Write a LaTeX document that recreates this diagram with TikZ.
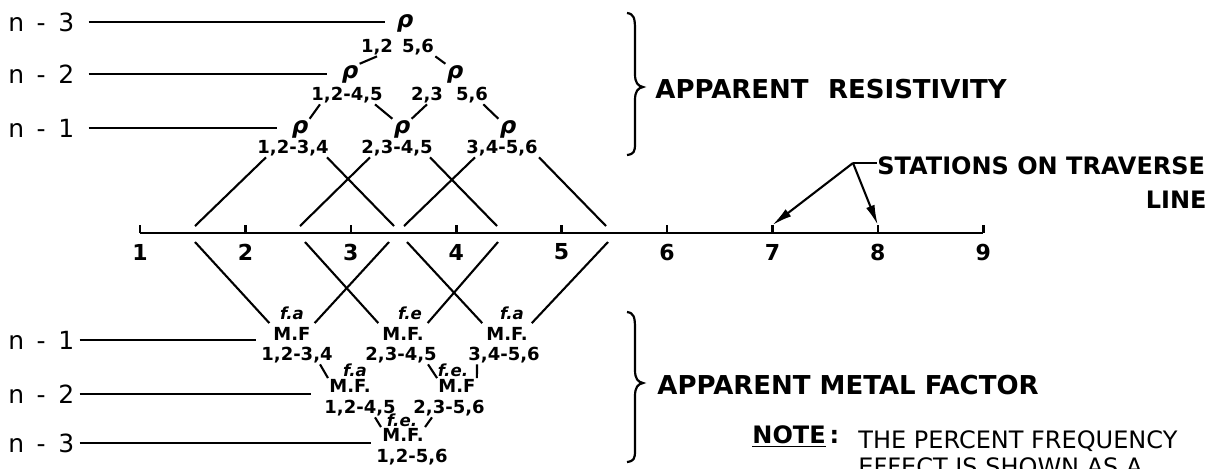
\documentclass[tikz,border=0pt]{standalone}
\usepackage{fontspec}
\setmainfont{DejaVu Sans}
\usetikzlibrary{arrows.meta,calc}

\begin{document}
\begin{tikzpicture}[x=0.5pt,y=-0.5pt,
  lbl/.style={anchor=west,inner sep=0pt,font=\fontsize{12.5}{14}\selectfont},
  rho/.style={inner sep=0.5pt,font=\bfseries\itshape\fontsize{11.5}{13}\selectfont},
  pair/.style={inner sep=0.5pt,font=\bfseries\fontsize{9}{10}\selectfont},
  fe/.style={inner sep=0pt,font=\bfseries\itshape\fontsize{8.3}{9}\selectfont},
  captext/.style={anchor=west,inner sep=0pt,font=\bfseries\fontsize{13}{15}\selectfont},
  num/.style={inner sep=0pt,font=\bfseries\fontsize{11}{12}\selectfont},
  link/.style={line width=1.05pt},
  lead/.style={line width=0.9pt},
  axis/.style={line width=1.3pt},
  tip/.style={-{Latex[length=10pt,width=4.5pt]}}]
\path[use as bounding box,fill=white] (0,0) rectangle (1218,468);

% level labels
\node[lbl] (nu3) at (8,22) {n\enspace-\enspace3};
\node[lbl] (nu2) at (8,74) {n\enspace-\enspace2};
\node[lbl] (nu1) at (8,128) {n\enspace-\enspace1};
\node[lbl] (nl1) at (8,340) {n\enspace-\enspace1};
\node[lbl] (nl2) at (8,394) {n\enspace-\enspace2};
\node[lbl] (nl3) at (8,443) {n\enspace-\enspace3};

% apparent resistivity
\node[rho] (r3) at (405,23) {ρ};
\node[pair] (t3a) at (377,47) {1,2};
\node[pair] (t3b) at (418,47) {5,6};
\node[rho] (r2a) at (350,74) {ρ};
\node[rho] (r2b) at (455,74) {ρ};
\node[pair] (t2a) at (347,95) {1,2-4,5};
\node[pair] (t2b) at (427,95) {2,3};
\node[pair] (t2c) at (472,95) {5,6};
\node[rho] (r1a) at (300,129) {ρ};
\node[rho] (r1b) at (402,129) {ρ};
\node[rho] (r1c) at (508,129) {ρ};
\node[pair] (t1a) at (293,148) {1,2-3,4};
\node[pair] (t1b) at (397,148) {2,3-4,5};
\node[pair] (t1c) at (502,148) {3,4-5,6};

% apparent metal factor
\node[fe] (fa1) at (292,313) {f.a};
\node[pair] (mf1) at (292,334) {M.F};
\node[pair] (lb1) at (297,355) {1,2-3,4};
\node[fe] (fa2) at (410,313) {f.e};
\node[pair] (mf2) at (403,334) {M.F.};
\node[pair] (lb2) at (401,355) {2,3-4,5};
\node[fe] (fa3) at (512,313) {f.a};
\node[pair] (mf3) at (507,334) {M.F.};
\node[pair] (lb3) at (504,355) {3,4-5,6};
\node[fe] (fa4) at (355,370) {f.a};
\node[pair] (mf4) at (350,386) {M.F.};
\node[pair] (lb4) at (360,408) {1,2-4,5};
\node[fe] (fa5) at (453,370) {f.e.};
\node[pair] (mf5) at (457,386) {M.F};
\node[pair] (lb5) at (449,408) {2,3-5,6};
\node[fe] (fa6) at (402,420) {f.e.};
\node[pair] (mf6) at (403,435) {M.F.};
\node[pair] (lb6) at (412,457) {1,2-5,6};

% traverse line
\foreach \k in {1,...,9} {
  \coordinate (s\k) at ({140+105.4*(\k-1)},233);
  \coordinate (t\k) at ({140+105.4*(\k-1)},225);
  \draw[axis] (s\k) -- (t\k);
  \node[num] (st\k) at ({140+105.4*(\k-1)},252) {\k};
}
\draw[axis] (s1) -- (s9);
\coordinate (u15) at (195,226);
\coordinate (u25) at (300,226);
\coordinate (u35a) at (394,226);
\coordinate (u35b) at (404,226);
\coordinate (u45) at (497,226);
\coordinate (u55) at (606,226);
\coordinate (l15) at (195,242);
\coordinate (l25) at (305,242);
\coordinate (l35a) at (389,242);
\coordinate (l35b) at (407,242);
\coordinate (l45) at (498,242);
\coordinate (l55) at (608,242);

% leaders
\draw[lead,shorten >=5pt] ([xshift=7pt]nu3.east) -- (nu3.east -| r3.west);
\draw[lead,shorten >=6.5pt] ([xshift=7pt]nu2.east) -- (nu2.east -| r2a.west);
\draw[lead,shorten >=6.5pt] ([xshift=7pt]nu1.east) -- (nu1.east -| r1a.west);
\draw[lead,shorten >=2pt] ([xshift=2.5pt]nl1.east) -- (nl1.east -| lb1.west);
\draw[lead,shorten >=6pt] ([xshift=2.5pt]nl2.east) -- (nl2.east -| lb4.west);
\draw[lead,shorten >=2pt] ([xshift=2.5pt]nl3.east) -- (nl3.east -| lb6.west);

% upper links
\draw[link] (t3a.south) -- (r2a.north east);
\draw[link] (t3b.south east) -- (r2b.north west);
\draw[link] ([xshift=5pt]t2a.south west) -- (r1a.north east);
\draw[link] ([xshift=-4.5pt]t2a.south east) -- (r1b.north west);
\draw[link] (t2b.south) -- (r1b.north east);
\draw[link] ([xshift=-3pt]t2c.south east) -- (r1c.north west);
\draw[link] ([xshift=5pt]t1a.south west) -- (u15);
\draw[link] ([xshift=-1.5pt]t1a.south east) -- (u35a);
\draw[link] ([xshift=5pt]t1b.south west) -- (u25);
\draw[link] ([xshift=-2pt]t1b.south east) -- (u45);
\draw[link] ([xshift=5pt]t1c.south west) -- (u35b);
\draw[link] (t1c.south east) -- (u55);

% lower links
\draw[link,shorten >=2pt] (l15) -- (mf1.north west);
\draw[link,shorten >=2pt] (l35a) -- (mf1.north east);
\draw[link,shorten >=2pt] (l25) -- (mf2.north west);
\draw[link,shorten >=2pt] (l45) -- (mf2.north east);
\draw[link,shorten >=2pt] (l35b) -- (mf3.north west);
\draw[link,shorten >=2pt] (l55) -- (mf3.north east);
\draw[link] ([xshift=-7pt]lb1.south east) -- (mf4.north west);
\draw[link] ([xshift=-5pt]lb2.south east) -- (mf5.north west);
\draw[link] ([xshift=5pt]lb3.south west) -- (mf5.north east);
\draw[link] ([xshift=-11pt]lb4.south east) -- (mf6.north west);
\draw[link] ([xshift=10pt]lb5.south west) -- (mf6.north east);

% braces and captions
\draw[line width=1.1pt] (627,13) .. controls (634,14) and (635,18) .. (635,30) -- (635,74) .. controls (635,83) and (638,86) .. (643,87) .. controls (638,88) and (635,91) .. (635,100) -- (635,143) .. controls (635,152) and (634,154) .. (627,155);
\draw[line width=1.1pt] (627,312) .. controls (634,313) and (635,317) .. (635,329) -- (635,370) .. controls (635,379) and (638,382) .. (643,383) .. controls (638,384) and (635,387) .. (635,396) -- (635,450) .. controls (635,459) and (634,461) .. (627,462);
\node[captext] (res) at (655,89) {APPARENT\hspace{0.4em} RESISTIVITY};
\node[captext] (mfac) at (657,385) {APPARENT METAL FACTOR};
\node[captext,font=\bfseries\fontsize{12}{14}\selectfont] (stn) at (877,166) {STATIONS ON TRAVERSE};
\node[anchor=east,inner sep=0pt,font=\bfseries\fontsize{12}{14}\selectfont] (lne) at (1207,200) {LINE};
\coordinate (jn) at (853,163);
\draw[link] (jn) -- (jn -| stn.west);
\draw[link,tip] (jn) -- (t7);
\draw[link,tip] (jn) -- (t8);
\node[captext,font=\bfseries\fontsize{12}{14}\selectfont] (note) at (752,437) {\underline{NOTE}\,:};
\node[anchor=north west,inner sep=0pt,align=left,font=\fontsize{12}{13.5}\selectfont] (ntxt) at (858,430) {THE PERCENT FREQUENCY\\EFFECT IS SHOWN AS A};
\end{tikzpicture}
\end{document}
